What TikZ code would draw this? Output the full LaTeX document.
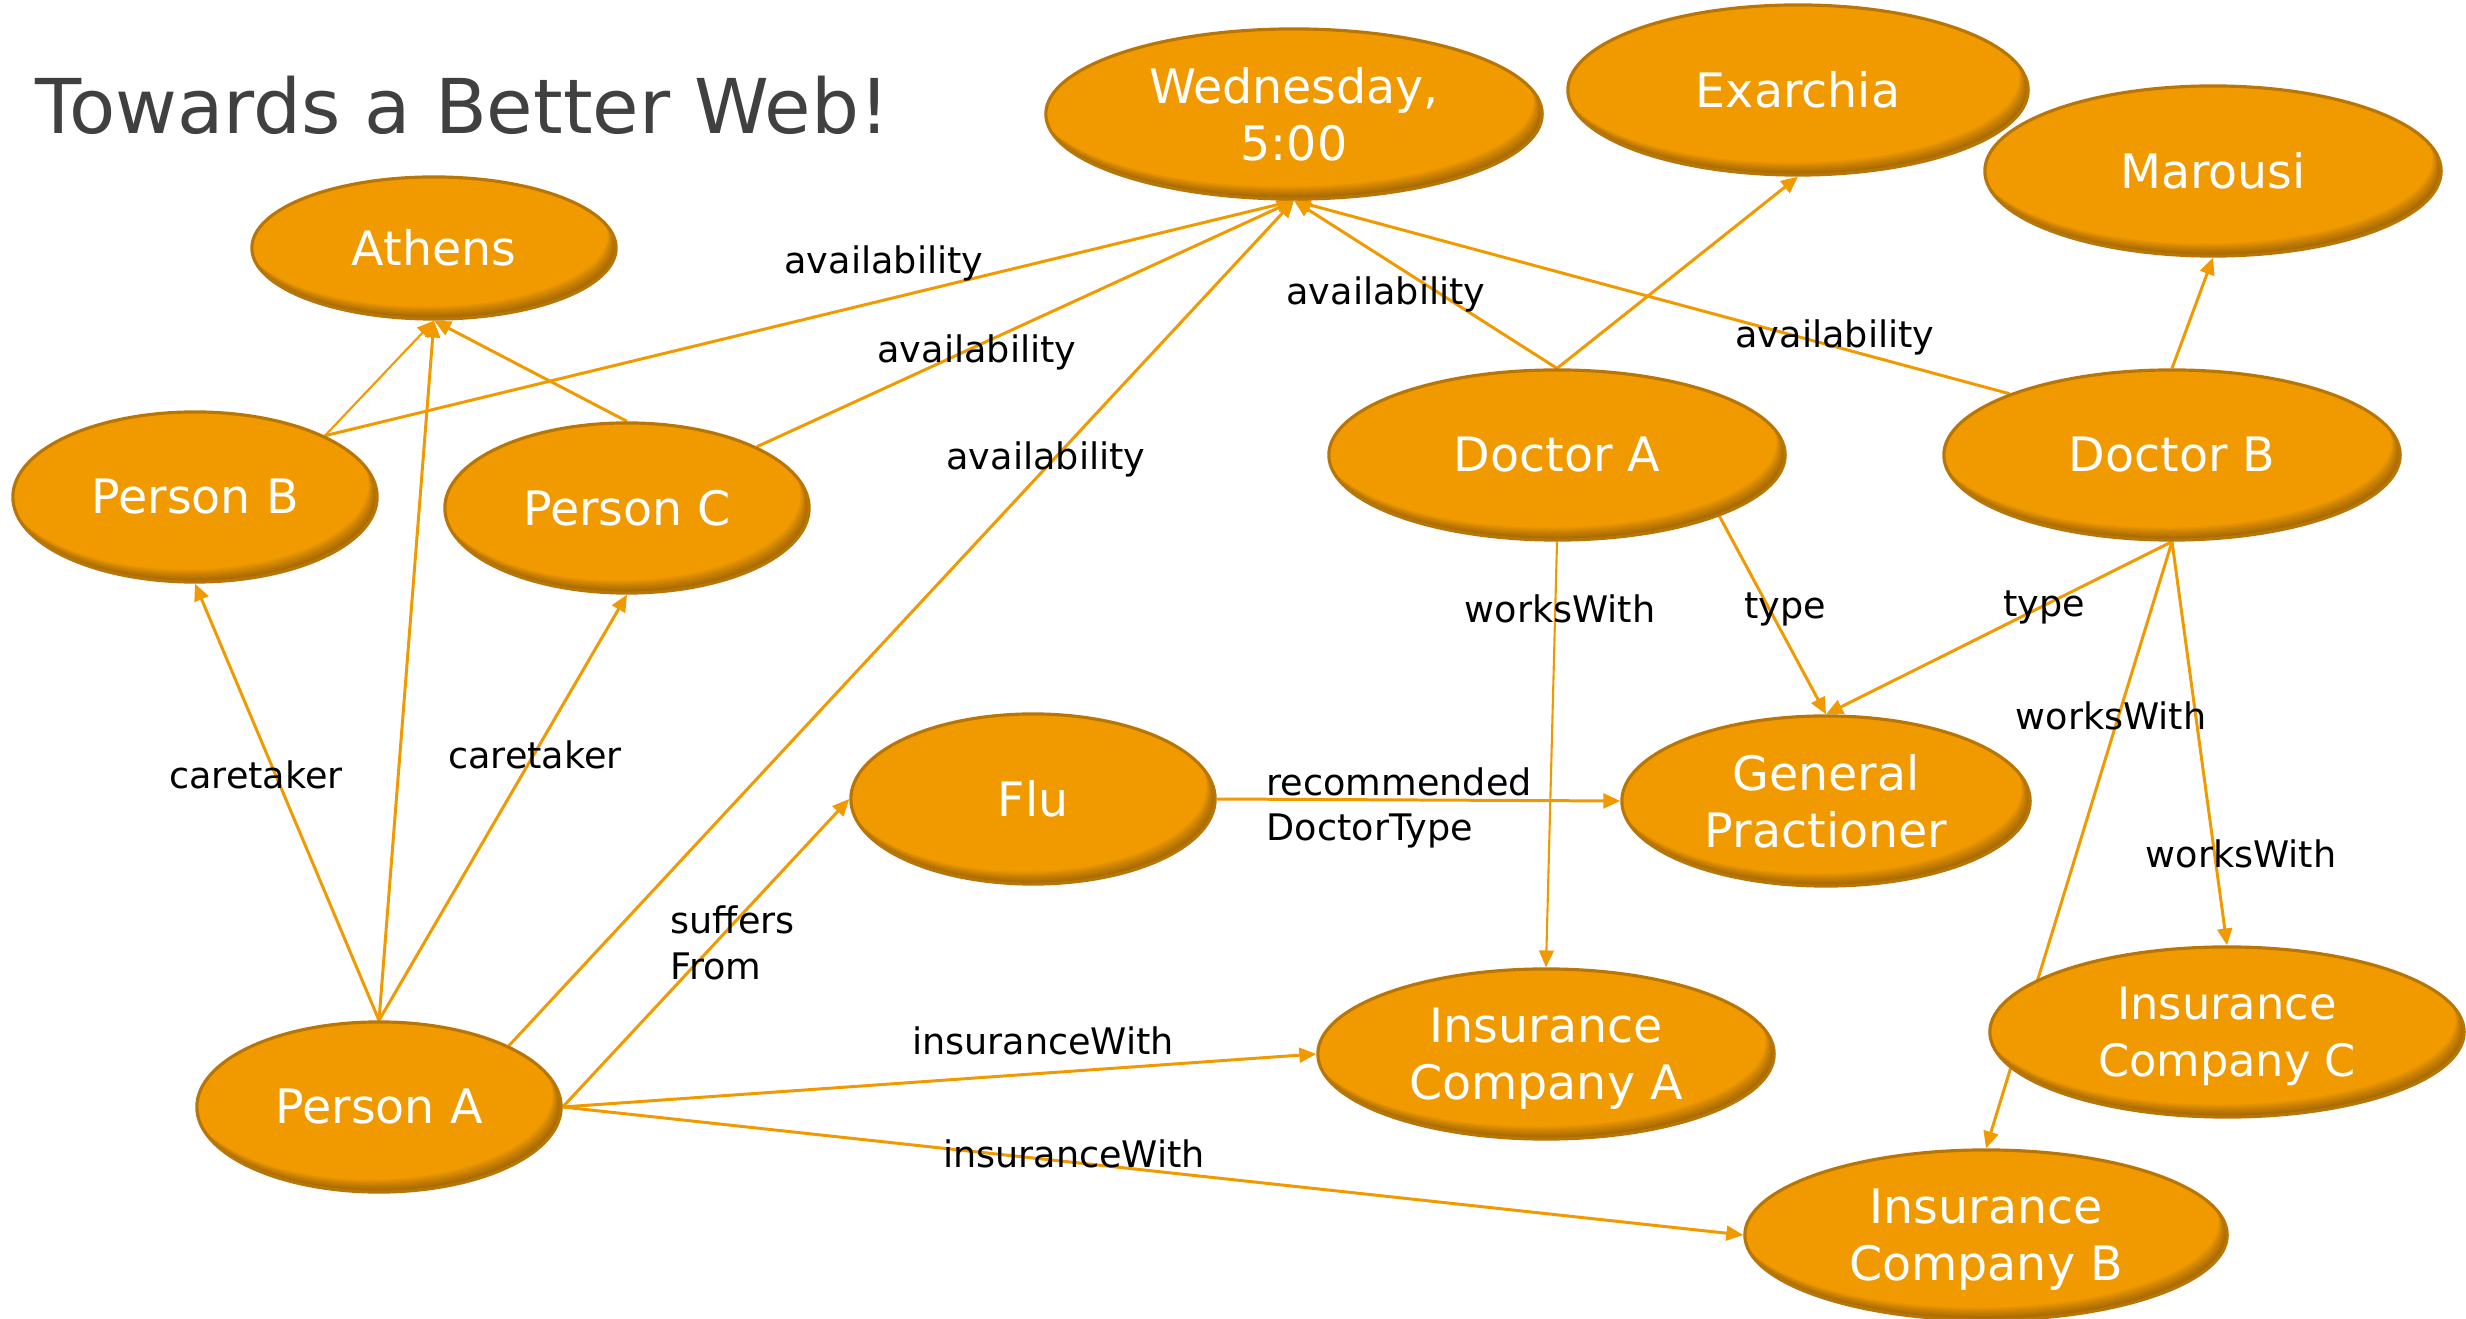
\documentclass[tikz,border=0pt]{standalone}
\usepackage{fontspec}
\setmainfont{DejaVu Sans}
\usetikzlibrary{shapes.geometric,arrows.meta,calc}
\pgfdeclarelayer{edges}
\pgfsetlayers{edges,main}

\definecolor{bubblefill}{RGB}{240,154,0}
\definecolor{bubbleedge}{RGB}{184,118,8}
\definecolor{linkcol}{RGB}{240,154,0}
\definecolor{titlegray}{RGB}{64,64,64}

\tikzset{
  innershade/.style={path picture={
    \path (path picture bounding box.south west) coordinate (psw)
          (path picture bounding box.north east) coordinate (pne)
          (path picture bounding box.center) coordinate (pc);
    \foreach \k in {1,...,7}{
      \fill[black, opacity=0.05, even odd rule] let \p1=($(pne)-(psw)$) in
        ([shift={(-20pt,-20pt)}]psw) rectangle ([shift={(20pt,20pt)}]pne)
        ([shift={({-0.35pt*\k},{0.5pt*\k})}]pc) ellipse [x radius=0.5*\x1, y radius=0.5*\y1];
    }
  }},
  bubble/.style 2 args={ellipse, draw=bubbleedge, line width=0.9pt, fill=bubblefill,
    text=white, font=\fontsize{13.5}{16.2}\selectfont, align=center, inner sep=0pt,
    minimum width=#1*0.02cm, minimum height=#2*0.02cm, innershade},
  twolines/.style={text depth=0pt},
  link/.style={draw=linkcol, line width=0.85pt, -{Triangle[length=4.8pt,width=4.2pt]}},
  tag/.style={text=black, font=\fontsize{10.4}{13}\selectfont, inner sep=0pt, align=left},
}

\begin{document}
\begin{tikzpicture}[x=0.01cm, y=-0.01cm]
\useasboundingbox (0,0) rectangle (2466,1319);

\node[anchor=base west, text=titlegray, font=\fontsize{21.5}{25}\selectfont, inner sep=0pt]
  (title) at (35,134) {Towards a Better Web!};

% resources
\node[bubble={182}{71}]  (athens)   at (434,248)  {Athens};
\node[bubble={248}{85}, twolines]  (wed) at (1294,114) {Wednesday,\\5:00};
\node[bubble={230}{85}]  (exarchia) at (1798,90)  {Exarchia};
\node[bubble={228}{85}]  (marousi)  at (2213,171) {Marousi};
\node[bubble={182}{85}]  (personB)  at (195,497)  {Person B};
\node[bubble={182}{85}]  (personC)  at (627,508)  {Person C};
\node[bubble={228}{85}]  (doctorA)  at (1557,455) {Doctor A};
\node[bubble={228}{85}]  (doctorB)  at (2172,455) {Doctor B};
\node[bubble={182}{85}]  (flu)      at (1033,799) {Flu};
\node[bubble={204}{85}, twolines]  (gp) at (1826,801) {General\\Practioner};
\node[bubble={182}{85}]  (personA)  at (379,1107) {Person A};
\node[bubble={228}{85}, twolines]  (insA) at (1546,1054) {Insurance\\Company A};
\node[bubble={237}{85}, twolines, font=\fontsize{12.7}{16.2}\selectfont]
                         (insC)     at (2227,1032) {Insurance\\Company C};
\node[bubble={241}{85}, twolines]  (insB) at (1986,1235) {Insurance\\Company B};

% properties
\begin{pgfonlayer}{edges}
\draw[link, line width=0.6pt] (personB.north east) -- (athens.south);
\draw[link] (personB.north east) -- (wed.south);
\draw[link] (personA.north) -- (athens.south);
\draw[link] (personC.north) -- (athens.south);
\draw[link] (personC.north east) -- (wed.south);
\draw[link] (personA.north east) -- (wed.south);
\draw[link] (personA.north) -- (personB.south);
\draw[link] (personA.north) -- (personC.south);
\draw[link] (personA.east) -- (flu.west);
\draw[link] (personA.east) -- (insA.west);
\draw[link] (personA.east) -- (insB.west);
\draw[link] (flu.east) -- (gp.west);
\draw[link] (doctorA.north) -- (wed.south);
\draw[link] (doctorA.north) -- (exarchia.south);
\draw[link] (doctorB.north west) -- (wed.south);
\draw[link] (doctorB.north) -- (marousi.south);
\draw[link, line width=0.6pt] (doctorA.south) -- (insA.north);
\draw[link] (doctorA.south east) -- (gp.north);
\draw[link] (doctorB.south) -- (gp.north);
\draw[link] (doctorB.south) -- (insB.north);
\draw[link] (doctorB.south) -- (insC.north);
\end{pgfonlayer}

% property labels
\node[tag] (avB)  at (884,263)  {availability};
\node[tag] (avC)  at (977,352)  {availability};
\node[tag] (avA)  at (1046,459) {availability};
\node[tag] (avDA) at (1386,294) {availability};
\node[tag] (avDB) at (1835,337) {availability};
\node[tag] (ctB)  at (256,775)  {caretaker};
\node[tag] (ctC)  at (535,755)  {caretaker};
\node[tag, anchor=west] (suf) at (670,943) {suffers\\From};
\node[tag] (insw1) at (1043,1041) {insuranceWith};
\node[tag] (insw2) at (1074,1154) {insuranceWith};
\node[tag, anchor=west] (rec) at (1266,808) {recommended\\DoctorType};
\node[tag] (wwA)  at (1560,609) {worksWith};
\node[tag] (tyA)  at (1785,609) {type};
\node[tag] (tyB)  at (2044,607) {type};
\node[tag] (wwB)  at (2111,716) {worksWith};
\node[tag] (wwC)  at (2241,854) {worksWith};
\end{tikzpicture}
\end{document}
